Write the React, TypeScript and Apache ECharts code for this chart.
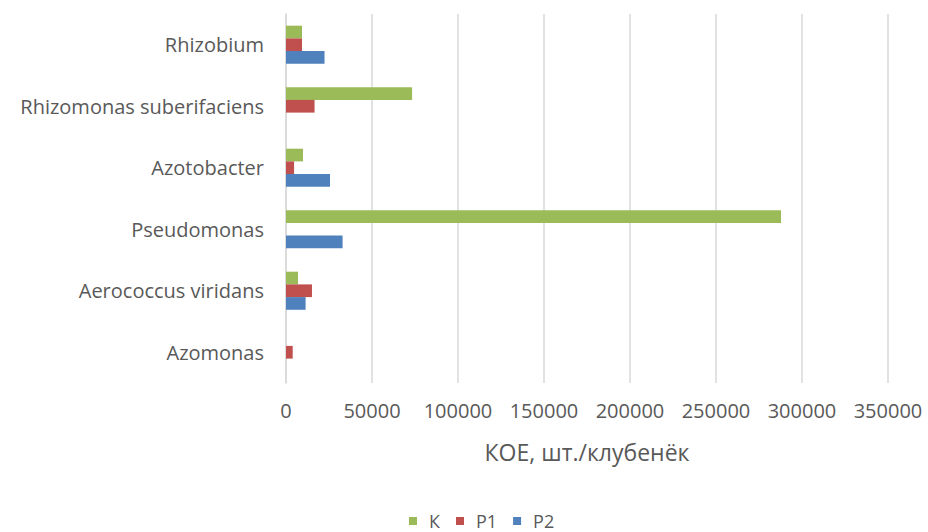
import React, { useEffect, useRef } from "react";
import * as echarts from "echarts";

const categories = [
  "Azomonas",
  "Aerococcus viridans",
  "Pseudomonas",
  "Azotobacter",
  "Rhizomonas suberifaciens",
  "Rhizobium",
];
const seriesNames = ["К", "Р1", "Р2"];
const valuesK = [0, 7000, 287800, 9900, 73300, 9300];
const valuesP1 = [3900, 15100, 0, 4700, 16600, 9300];
const valuesP2 = [0, 11400, 32900, 25600, 0, 22400];
const colors = ["#9BBB59", "#C0504D", "#4F81BD"];
const xTicks = { min: 0, max: 350000, interval: 50000 };
const axisTitle = "КОЕ, шт./клубенёк";

export default function App() {
  const ref = useRef<HTMLDivElement>(null);
  useEffect(() => {
    if (!ref.current) return;
    const chart = echarts.init(ref.current, null, { renderer: "svg" });
    const font = "Open Sans";
    const data = [valuesK, valuesP1, valuesP2];
    chart.setOption({
      animation: false,
      textStyle: { fontFamily: font },
      grid: { left: 286, right: 40, top: 14, height: 369 },
      legend: {
        data: seriesNames,
        top: 507,
        left: 404,
        icon: "rect",
        itemWidth: 8,
        itemHeight: 8,
        itemGap: 16,
        textStyle: { color: "#595959", fontSize: 18, fontFamily: font, padding: [0, 0, 0, 7] },
      },
      xAxis: {
        type: "value",
        min: xTicks.min,
        max: xTicks.max,
        interval: xTicks.interval,
        name: axisTitle,
        nameLocation: "middle",
        nameGap: 57,
        nameTextStyle: { color: "#595959", fontSize: 23, fontFamily: font },
        axisLine: { show: false },
        axisTick: { show: false },
        axisLabel: {
          color: "#595959",
          fontSize: 20,
          margin: 17,
          fontFamily: font,
          formatter: (v: number) => String(v),
        },
        splitLine: { show: true, lineStyle: { color: "#D9D9D9", width: 1.5 } },
      },
      yAxis: {
        type: "category",
        data: categories,
        axisLine: { show: true, lineStyle: { color: "#D9D9D9", width: 1.5 } },
        axisTick: { show: false },
        axisLabel: { color: "#595959", fontSize: 20, margin: 22, fontFamily: font },
      },
      series: seriesNames.map((name, i) => ({
        name,
        type: "bar",
        data: data[i],
        barGap: "0%",
        barCategoryGap: "38%",
        itemStyle: { color: colors[i] },
      })),
    });
    return () => chart.dispose();
  }, []);
  return (
    <div
      ref={ref}
      style={{ position: "absolute", left: 0, top: 0, width: 928, height: 532 }}
    />
  );
}
